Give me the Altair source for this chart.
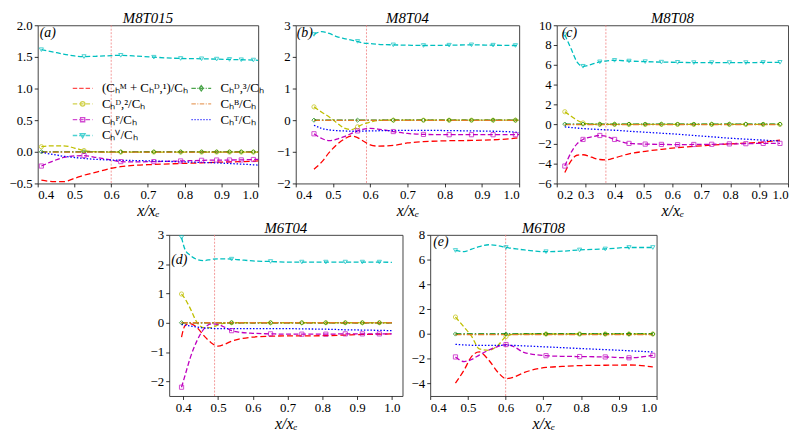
import altair as alt
import pandas as pd

# ---------------- data ----------------
SERIES = ["MD1", "D2", "D3", "P", "V", "B", "T"]
LABELS = {
    "MD1": "(Cₕᴹ + Cₕᴰ,¹)/Cₕ",
    "D2": "Cₕᴰ,²/Cₕ",
    "D3": "Cₕᴰ,³/Cₕ",
    "P": "Cₕᴾ/Cₕ",
    "V": "Cₕⱽ/Cₕ",
    "B": "Cₕᴮ/Cₕ",
    "T": "Cₕᵀ/Cₕ",
}
# legend is filled column by column: left column first, then right column
LEGEND_ORDER = ["MD1", "D2", "P", "V", "D3", "B", "T"]

# panel (a) M8T015
a_x = [0.41, 0.44, 0.47, 0.50, 0.526, 0.56, 0.60, 0.626, 0.66, 0.716, 0.789, 0.846, 0.887, 0.922, 0.954, 0.987, 1.0]
a_mark = [0.41, 0.526, 0.626, 0.716, 0.789, 0.846, 0.887, 0.922, 0.954, 0.987]
a_md1 = [-0.447, -0.47, -0.472, -0.42, -0.37, -0.32, -0.26, -0.235, -0.215, -0.20, -0.185, -0.175, -0.165, -0.16, -0.155, -0.148, -0.145]
a_d2 = [0.08, 0.095, 0.095, 0.06, 0.02, 0.0, -0.005, -0.005, -0.005, -0.005, -0.005, -0.005, -0.005, -0.005, -0.005, -0.005, -0.005]
a_d3 = [0.0] * 17
a_p = [-0.225, -0.15, -0.09, -0.065, -0.06, -0.09, -0.13, -0.155, -0.16, -0.155, -0.145, -0.135, -0.13, -0.13, -0.128, -0.122, -0.12]
a_v = [1.614, 1.58, 1.545, 1.515, 1.505, 1.51, 1.52, 1.525, 1.515, 1.495, 1.475, 1.47, 1.465, 1.46, 1.455, 1.45, 1.445]
a_b = [-0.005] * 17
a_t = [-0.01, -0.04, -0.07, -0.09, -0.105, -0.12, -0.13, -0.135, -0.138, -0.145, -0.158, -0.168, -0.175, -0.185, -0.195, -0.205, -0.21]

# panel (b) M8T04
b_x = [0.449, 0.47, 0.49, 0.51, 0.53, 0.55, 0.566, 0.58, 0.60, 0.62, 0.662, 0.70, 0.743, 0.812, 0.872, 0.93, 0.99, 1.0]
b_mark = [0.449, 0.566, 0.662, 0.743, 0.812, 0.872, 0.93, 0.99]
b_md1 = [-1.55, -1.32, -1.02, -0.78, -0.6, -0.5, -0.55, -0.65, -0.78, -0.82, -0.80, -0.72, -0.68, -0.65, -0.64, -0.62, -0.57, -0.55]
b_d2 = [0.42, 0.25, 0.10, -0.08, -0.25, -0.30, -0.21, -0.13, -0.06, -0.01, 0.0, 0.0, 0.0, 0.0, 0.0, 0.0, 0.0, 0.0]
b_d3 = [0.0] * 18
b_p = [-0.43, -0.58, -0.65, -0.60, -0.52, -0.42, -0.34, -0.29, -0.26, -0.28, -0.36, -0.42, -0.45, -0.46, -0.46, -0.46, -0.46, -0.46]
b_v = [2.71, 2.80, 2.74, 2.64, 2.58, 2.53, 2.49, 2.44, 2.42, 2.40, 2.38, 2.37, 2.36, 2.37, 2.38, 2.37, 2.36, 2.36]
b_b = [-0.01] * 18
b_t = [-0.16, -0.26, -0.31, -0.33, -0.34, -0.35, -0.35, -0.345, -0.34, -0.335, -0.33, -0.32, -0.32, -0.33, -0.34, -0.35, -0.38, -0.40]

# panel (c) M8T08
c_x = [0.228, 0.25, 0.27, 0.291, 0.32, 0.349, 0.37, 0.40, 0.45, 0.506, 0.562, 0.618, 0.674, 0.736, 0.797, 0.854, 0.914, 0.972]
c_mark = [0.228, 0.291, 0.349, 0.40, 0.45, 0.506, 0.562, 0.618, 0.674, 0.736, 0.797, 0.854, 0.914, 0.972]
c_md1 = [-4.9, -3.7, -3.15, -3.1, -3.35, -3.58, -3.62, -3.42, -3.0, -2.75, -2.55, -2.38, -2.25, -2.12, -2.0, -1.92, -1.82, -1.62]
c_d2 = [1.25, 0.8, 0.4, 0.12, 0.0, -0.03, -0.03, -0.03, -0.03, -0.03, -0.03, -0.03, -0.03, -0.03, -0.03, -0.03, -0.03, -0.03]
c_d3 = [0.0] * 18
c_p = [-4.24, -2.85, -2.0, -1.55, -1.3, -1.15, -1.22, -1.55, -1.95, -2.02, -2.05, -2.08, -2.06, -2.04, -2.0, -1.98, -1.95, -1.95]
c_v = [9.05, 7.6, 6.3, 5.85, 6.05, 6.3, 6.38, 6.45, 6.38, 6.32, 6.27, 6.25, 6.22, 6.22, 6.22, 6.22, 6.24, 6.25]
c_b = [-0.05] * 18
c_t = [-0.28, -0.35, -0.4, -0.45, -0.5, -0.55, -0.58, -0.62, -0.72, -0.82, -0.92, -1.02, -1.15, -1.28, -1.42, -1.52, -1.62, -1.72]

# panel (d) M6T04
d_x = [0.395, 0.405, 0.42, 0.44, 0.46, 0.48, 0.50, 0.52, 0.539, 0.56, 0.60, 0.651, 0.70, 0.741, 0.81, 0.866, 0.915, 0.964, 1.0]
d_mark = [0.395, 0.539, 0.651, 0.741, 0.81, 0.866, 0.915, 0.964]
d_md1 = [-0.49, -0.1, -0.03, -0.17, -0.45, -0.68, -0.80, -0.73, -0.63, -0.56, -0.49, -0.46, -0.45, -0.45, -0.44, -0.42, -0.40, -0.39, -0.38]
d_d2 = [0.98, 0.82, 0.49, 0.0, -0.17, -0.17, -0.07, -0.01, 0.0, 0.0, 0.0, 0.0, 0.0, 0.0, 0.0, 0.0, 0.0, 0.0, 0.0]
d_d3 = [0.0] * 19
d_p = [-2.2, -1.8, -1.2, -0.6, -0.2, -0.04, -0.06, -0.16, -0.27, -0.32, -0.36, -0.38, -0.39, -0.39, -0.39, -0.38, -0.38, -0.38, -0.38]
d_v = [2.91, 2.5, 2.3, 2.16, 2.12, 2.16, 2.18, 2.18, 2.17, 2.15, 2.11, 2.09, 2.07, 2.07, 2.07, 2.07, 2.07, 2.07, 2.06]
d_b = [0.0] * 19
d_t = [-0.06, -0.08, -0.11, -0.15, -0.18, -0.19, -0.2, -0.2, -0.2, -0.2, -0.2, -0.2, -0.2, -0.21, -0.22, -0.24, -0.25, -0.26, -0.27]

# panel (e) M6T08
e_x = [0.467, 0.49, 0.51, 0.53, 0.555, 0.58, 0.601, 0.62, 0.65, 0.707, 0.75, 0.796, 0.864, 0.927, 0.99]
e_mark = [0.467, 0.601, 0.707, 0.796, 0.864, 0.927, 0.99]
e_md1 = [-3.97, -2.9, -1.8, -1.45, -2.1, -3.1, -3.6, -3.5, -3.1, -2.7, -2.62, -2.55, -2.52, -2.5, -2.65]
e_d2 = [1.37, 0.55, -0.2, -1.2, -1.32, -0.9, -0.2, -0.03, 0.0, 0.0, 0.0, 0.0, 0.0, 0.0, 0.0]
e_d3 = [0.0] * 15
e_p = [-1.85, -2.22, -2.05, -1.7, -1.3, -1.0, -0.85, -1.0, -1.5, -1.75, -1.8, -1.82, -1.85, -1.92, -1.72]
e_v = [6.74, 6.65, 6.85, 7.05, 7.2, 7.12, 6.98, 6.9, 6.78, 6.64, 6.68, 6.78, 6.86, 6.98, 6.98]
e_b = [-0.05] * 15
e_t = [-0.83, -0.88, -0.91, -0.92, -0.92, -0.92, -0.9, -0.92, -0.96, -1.04, -1.1, -1.17, -1.26, -1.35, -1.45]

# separation lines
VLINES = {"a": 0.60, "b": 0.59, "c": 0.37, "d": 0.49, "e": 0.60}

# ---------------- styles ----------------
FONT = "Liberation Serif"
COLORS = {"MD1": "#ff0000", "D2": "#bfbf00", "D3": "#008000", "P": "#bf00bf",
          "V": "#00bfbf", "B": "#e07b26", "T": "#0000ff"}
DASHES = {"MD1": [6, 3], "D2": [5, 2.5], "D3": [6, 2, 1.5, 2], "P": [5, 2.5],
          "V": [5, 2.5], "B": [6, 2, 1.5, 2], "T": [1.5, 1.8]}
MARKERS = {"D2": "circle", "D3": "diamond", "P": "square", "V": "triangle-down"}

DASH_PATH = "M-2,0H-1.1M-0.7,0H0.2M0.6,0H1.5M1.9,0H2"
DASHDOT_PATH = "M-2,0H-1.1M-0.8,0H-0.6M-0.3,0H0.6M0.9,0H1.1M1.4,0H2"
DOT_PATH = "M-2,0H-1.7M-1.4,0H-1.1M-0.8,0H-0.5M-0.2,0H0.1M0.4,0H0.7M1.0,0H1.3M1.6,0H1.9"
LEG_PATHS = {
    "MD1": DASH_PATH,
    "D2": DASH_PATH + "M0.45,0A0.45,0.45,0,1,1,-0.45,0A0.45,0.45,0,1,1,0.45,0",
    "D3": DASHDOT_PATH + "M0,-0.55L0.4,0L0,0.55L-0.4,0Z",
    "P": DASH_PATH + "M-0.42,-0.42H0.42V0.42H-0.42Z",
    "V": DASH_PATH + "M-0.5,-0.38H0.5L0,0.5Z",
    "B": DASHDOT_PATH,
    "T": DOT_PATH,
}


def make_panel(key, title, xs, marks, vals, xdom, ydom, xticks, yticks, yfmt,
               w, h, lab_x, lab_y, legend=False):
    rows = []
    for s in SERIES:
        for xv, yv in zip(xs, vals[s]):
            rows.append({"x": xv, "y": yv, "series": s, "mark": xv in marks})
    df = pd.DataFrame(rows)
    X = alt.X("x:Q", scale=alt.Scale(domain=xdom, nice=False, zero=False),
              axis=alt.Axis(values=xticks, format=".1f", title="x/xₑ",
                            labelOverlap=False, labelFont=FONT))
    Y = alt.Y("y:Q", scale=alt.Scale(domain=ydom, nice=False, zero=False),
              axis=alt.Axis(values=yticks, format=yfmt, title=None,
                            labelOverlap=False, labelFont=FONT))
    base = alt.Chart(df)
    layers = []
    vl = alt.Chart(pd.DataFrame({"x": [VLINES[key]]})).mark_rule(
        color="#f08080", strokeWidth=0.8, strokeDash=[2, 1.5]).encode(x=X)
    layers.append(vl)
    for s in SERIES:
        layers.append(
            base.transform_filter(alt.datum.series == s).mark_line(
                interpolate="monotone", strokeWidth=1.3, color=COLORS[s],
                strokeDash=DASHES[s]).encode(x=X, y=Y)
        )
    for s in ["D2", "D3", "P", "V"]:
        layers.append(
            base.transform_filter((alt.datum.series == s) & alt.datum.mark).mark_point(
                shape=MARKERS[s], filled=False, size=18, strokeWidth=1,
                color=COLORS[s]).encode(x=X, y=Y)
        )
    layers.append(
        alt.Chart(pd.DataFrame({"t": ["(" + key + ")"]})).mark_text(
            font=FONT, fontSize=14, fontStyle="italic", align="left",
            baseline="middle", color="black").encode(
            text="t:N", x=alt.value(lab_x), y=alt.value(lab_y))
    )
    if legend:
        leg_df = pd.DataFrame({"label": [LABELS[s] for s in LEGEND_ORDER]})
        leg_kw = dict(orient="none", legendX=39, legendY=57, columns=2, title=None,
                      labelFont=FONT, labelFontSize=13, symbolSize=100,
                      symbolStrokeWidth=1.3, labelOffset=13, rowPadding=2,
                      columnPadding=0, symbolFillColor="transparent")
        dummy = alt.Chart(leg_df).transform_filter("false").mark_point(
            filled=False).encode(
            color=alt.Color("label:N", scale=alt.Scale(
                domain=[LABELS[s] for s in LEGEND_ORDER],
                range=[COLORS[s] for s in LEGEND_ORDER]),
                legend=alt.Legend(**leg_kw)),
            shape=alt.Shape("label:N", scale=alt.Scale(
                domain=[LABELS[s] for s in LEGEND_ORDER],
                range=[LEG_PATHS[s] for s in LEGEND_ORDER]),
                legend=alt.Legend(**leg_kw)),
        )
        layers.append(dummy)
    return alt.layer(*layers).properties(
        width=w, height=h,
        title=alt.TitleParams(title, font=FONT, fontSize=15, fontWeight="normal",
                              fontStyle="italic", offset=-7))


def pack(names, arrs):
    return dict(zip(names, arrs))


pa = make_panel("a", "M8T015", a_x, a_mark,
                pack(SERIES, [a_md1, a_d2, a_d3, a_p, a_v, a_b, a_t]),
                [0.4, 1.0], [-0.5, 2.0], [0.4, 0.5, 0.6, 0.7, 0.8, 0.9, 1.0],
                [-0.5, 0.0, 0.5, 1.0, 1.5, 2.0], ".1f", 223, 160, 2, 8, legend=True)
pb = make_panel("b", "M8T04", b_x, b_mark,
                pack(SERIES, [b_md1, b_d2, b_d3, b_p, b_v, b_b, b_t]),
                [0.4, 1.0], [-2, 3], [0.4, 0.5, 0.6, 0.7, 0.8, 0.9, 1.0],
                [-2, -1, 0, 1, 2, 3], "d", 226, 160, 1, 8)
pc = make_panel("c", "M8T08", c_x, c_mark,
                pack(SERIES, [c_md1, c_d2, c_d3, c_p, c_v, c_b, c_t]),
                [0.2, 1.0], [-6, 10], [0.2, 0.3, 0.4, 0.5, 0.6, 0.7, 0.8, 0.9, 1.0],
                [-6, -4, -2, 0, 2, 4, 6, 8, 10], "d", 234, 160, 5, 8)
pd_ = make_panel("d", "M6T04", d_x, d_mark,
                 pack(SERIES, [d_md1, d_d2, d_d3, d_p, d_v, d_b, d_t]),
                 [0.3595, 1.0305], [-2.5, 3], [0.4, 0.5, 0.6, 0.7, 0.8, 0.9, 1.0],
                 [-2, -1, 0, 1, 2, 3], "d", 236, 163, 2, 25)
pe = make_panel("e", "M6T08", e_x, e_mark,
                pack(SERIES, [e_md1, e_d2, e_d3, e_p, e_v, e_b, e_t]),
                [0.4, 1.0], [-5, 8], [0.4, 0.5, 0.6, 0.7, 0.8, 0.9, 1.0],
                [-4, -2, 0, 2, 4, 6, 8], "d", 229, 163, 3, 7)

top = alt.hconcat(pa, pb, pc, spacing=14)
bottom = alt.hconcat(pd_, pe, spacing=7)

chart = alt.vconcat(top, bottom, spacing=1, center=True).properties(
    padding=0,
    background="white",
).configure(font=FONT).configure_view(stroke="#444", strokeWidth=1).configure_axis(
    grid=False, domain=False, tickSize=3.5, tickWidth=0.8, tickColor="black",
    labelFont=FONT, labelFontSize=13, labelColor="black", labelPadding=2,
    labelOverlap=False,
    titleFont=FONT, titleFontSize=16, titleFontStyle="italic", titleFontWeight="normal",
    titleColor="black", titlePadding=1,
)

chart.save("out.html", embed_options={"renderer": "svg", "actions": False})
